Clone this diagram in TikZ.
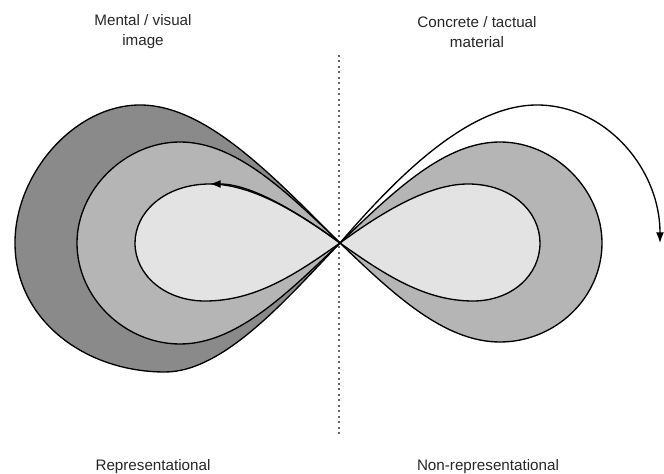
\documentclass[tikz,border=0pt]{standalone}
\usepackage{fontspec}
\setmainfont{Liberation Sans}
\usetikzlibrary{arrows.meta}
\definecolor{outerfill}{gray}{0.54}
\definecolor{midfill}{gray}{0.71}
\definecolor{innerfill}{gray}{0.89}
\begin{document}
\begin{tikzpicture}[x=0.75pt,y=0.75pt,line width=1pt,
  lobe/.style={draw=black,line join=round},
  caption/.style={font=\fontsize{11.4}{15}\selectfont,align=center,text=black!85},
  turn/.style={-{Latex[length=8pt,width=6pt]}}]
  \useasboundingbox (-340,-231) rectangle (324,243);
  \coordinate (c) at (0,0);
  \coordinate (tip) at (320,0);
  \draw[gray!80!black,line width=1.5pt,dash pattern=on 1.5pt off 2.6pt] (-1,188) -- (-1,-194);
  % left lobes
  \filldraw[lobe,fill=outerfill] (c) .. controls (-70,70) and (-135,138) .. (-200,138)
    .. controls (-265,138) and (-325,70) .. (-325,0)
    .. controls (-325,-77) and (-255,-129) .. (-175,-129)
    .. controls (-115,-129) and (-50,-52) .. (c);
  \filldraw[lobe,fill=midfill] (c) .. controls (-55,53) and (-105,101) .. (-160,101)
    .. controls (-215,101) and (-263,53) .. (-263,0)
    .. controls (-263,-55) and (-215,-101) .. (-160,-101)
    .. controls (-105,-101) and (-55,-53) .. (c);
  \filldraw[lobe,fill=innerfill] (c) .. controls (-45,33) and (-90,59) .. (-130,59)
    .. controls (-175,59) and (-205,31) .. (-205,0)
    .. controls (-205,-32) and (-175,-58) .. (-135,-58)
    .. controls (-85,-58) and (-45,-32) .. (c);
  \draw[turn] (c) .. controls (-45,33) and (-90,59) .. (-130,59);
  % right lobes
  \filldraw[lobe,fill=midfill] (c) .. controls (55,53) and (105,101) .. (160,101)
    .. controls (215,101) and (262,53) .. (262,0)
    .. controls (262,-55) and (215,-99) .. (160,-99)
    .. controls (105,-99) and (55,-53) .. (c);
  \filldraw[lobe,fill=innerfill] (c) .. controls (45,33) and (90,59) .. (128,59)
    .. controls (172,59) and (200,31) .. (200,0)
    .. controls (200,-32) and (172,-58) .. (133,-58)
    .. controls (85,-58) and (45,-32) .. (c);
  \draw[turn] (c) .. controls (60,70) and (130,138) .. (197,138)
    .. controls (265,138) and (320,75) .. (tip);
  % captions
  \node[caption] (mental) at (-197,211) {Mental / visual\\image};
  \node[caption] (concrete) at (137,211) {Concrete / tactual\\material};
  \node[caption] (repr) at (-187,-224) {Representational};
  \node[caption] (nonrepr) at (148,-224) {Non-representational};
\end{tikzpicture}
\end{document}
